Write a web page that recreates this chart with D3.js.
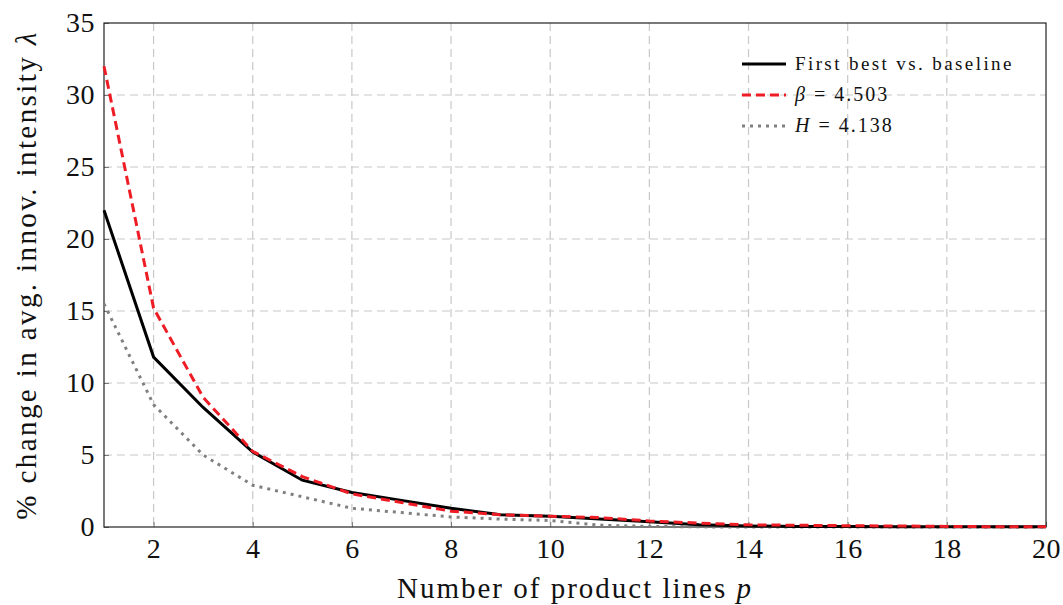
<!DOCTYPE html>
<html><head><meta charset="utf-8">
<script src="https://cdn.jsdelivr.net/npm/d3@7"></script>
<style>
body{margin:0;background:#fff;}
svg{display:block;}
text{font-family:"Liberation Serif","DejaVu Serif",serif;fill:#111;}
</style></head>
<body>
<svg id="chart" width="1063" height="605"></svg>
<script>
const productLines = [1,2,3,4,5,6,7,8,9,10,11,12,13,14,15,16,17,18,19,20];
const firstBest = [22.0,11.8,8.3,5.2,3.25,2.4,1.85,1.3,0.85,0.75,0.56,0.37,0.15,0.07,0.04,0.03,0.02,0.01,0.01,0.01];
const betaSeries = [32.0,15.2,9.0,5.25,3.5,2.3,1.7,1.1,0.85,0.75,0.65,0.42,0.27,0.15,0.12,0.09,0.07,0.04,0.02,0.02];
const hSeries = [15.5,8.5,5.0,2.9,2.1,1.3,1.0,0.7,0.55,0.45,0.12,0.04,0.01,0,0,0,0,0,0,0];
const xTicks = [2,4,6,8,10,12,14,16,18,20];
const yTicks = [0,5,10,15,20,25,30,35];
const legendLabels = ["First best vs. baseline","β = 4.503","H = 4.138"];

const svg = d3.select("#chart");
const L=104, R=1046, T=23, B=527;
const x = d3.scaleLinear().domain([1,20]).range([L,R]);
const y = d3.scaleLinear().domain([0,35]).range([B,T]);

// grid
const grid = svg.append("g");
grid.selectAll(".gx").data(xTicks.filter(d=>d<20)).join("line")
  .attr("x1",d=>x(d)).attr("x2",d=>x(d)).attr("y1",T).attr("y2",B)
  .attr("stroke","#c8c8c8").attr("stroke-width",1.2).attr("stroke-dasharray","8,5");
grid.selectAll(".gy").data(yTicks.filter(d=>d>0&&d<35)).join("line")
  .attr("x1",L).attr("x2",R).attr("y1",d=>y(d)).attr("y2",d=>y(d))
  .attr("stroke","#c8c8c8").attr("stroke-width",1.2).attr("stroke-dasharray","8,5");

// axes
const xAxis = svg.append("g").attr("transform",`translate(0,${B})`)
  .call(d3.axisBottom(x).tickValues(xTicks).tickSize(-5).tickPadding(11).tickFormat(d3.format("d")));
const yAxis = svg.append("g").attr("transform",`translate(${L},0)`)
  .call(d3.axisLeft(y).tickValues(yTicks).tickSize(-5).tickPadding(9).tickFormat(d3.format("d")));
[xAxis,yAxis].forEach(a=>{
  a.select(".domain").remove();
  a.selectAll(".tick line").attr("stroke","#777").attr("stroke-width",1);
  a.selectAll(".tick text").attr("font-size",28).attr("font-family",'"Liberation Serif",serif').attr("fill","#111").attr("letter-spacing",0.5);
});
// frame
svg.append("rect").attr("x",L).attr("y",T).attr("width",R-L).attr("height",B-T)
  .attr("fill","none").attr("stroke","#222").attr("stroke-width",1.2);

// lines
const line = d3.line().x((d,i)=>x(productLines[i])).y(d=>y(d));
svg.append("path").datum(hSeries).attr("d",line).attr("fill","none")
  .attr("stroke","#808080").attr("stroke-width",3).attr("stroke-dasharray","3,5");
svg.append("path").datum(firstBest).attr("d",line).attr("fill","none")
  .attr("stroke","#000").attr("stroke-width",3);
svg.append("path").datum(betaSeries).attr("d",line).attr("fill","none")
  .attr("stroke","#ee1c25").attr("stroke-width",3).attr("stroke-dasharray","9,5");

// legend
const leg = svg.append("g");
const styles = [
  {stroke:"#000",dash:null},
  {stroke:"#ee1c25",dash:"9,5"},
  {stroke:"#808080",dash:"3,5"}
];
const rowY = [64,95,126];
styles.forEach((s,i)=>{
  const l = leg.append("line").attr("x1",742).attr("x2",786).attr("y1",rowY[i]).attr("y2",rowY[i])
    .attr("stroke",s.stroke).attr("stroke-width",3);
  if(s.dash) l.attr("stroke-dasharray",s.dash);
});
leg.append("text").attr("x",795).attr("y",rowY[0]+6).attr("font-size",19).attr("letter-spacing",2.4).text(legendLabels[0]);
const t1 = leg.append("text").attr("x",795).attr("y",rowY[1]+6).attr("font-size",20).attr("letter-spacing",2);
t1.append("tspan").attr("font-style","italic").text("β");
t1.append("tspan").text(" = 4.503");
const t2 = leg.append("text").attr("x",795).attr("y",rowY[2]+6).attr("font-size",20).attr("letter-spacing",2);
t2.append("tspan").attr("font-style","italic").text("H");
t2.append("tspan").text(" = 4.138");

// axis titles
const xt = svg.append("text").attr("x",(L+R)/2).attr("y",598).attr("text-anchor","middle").attr("font-size",29).attr("letter-spacing",2);
xt.append("tspan").text("Number of product lines ");
xt.append("tspan").attr("font-style","italic").text("p");
const yt = svg.append("text").attr("transform",`translate(36,${(T+B)/2}) rotate(-90)`)
  .attr("text-anchor","middle").attr("font-size",29).attr("letter-spacing",2.4);
yt.append("tspan").text("% change in avg. innov. intensity ");
yt.append("tspan").attr("font-style","italic").text("λ");
</script>
</body></html>
